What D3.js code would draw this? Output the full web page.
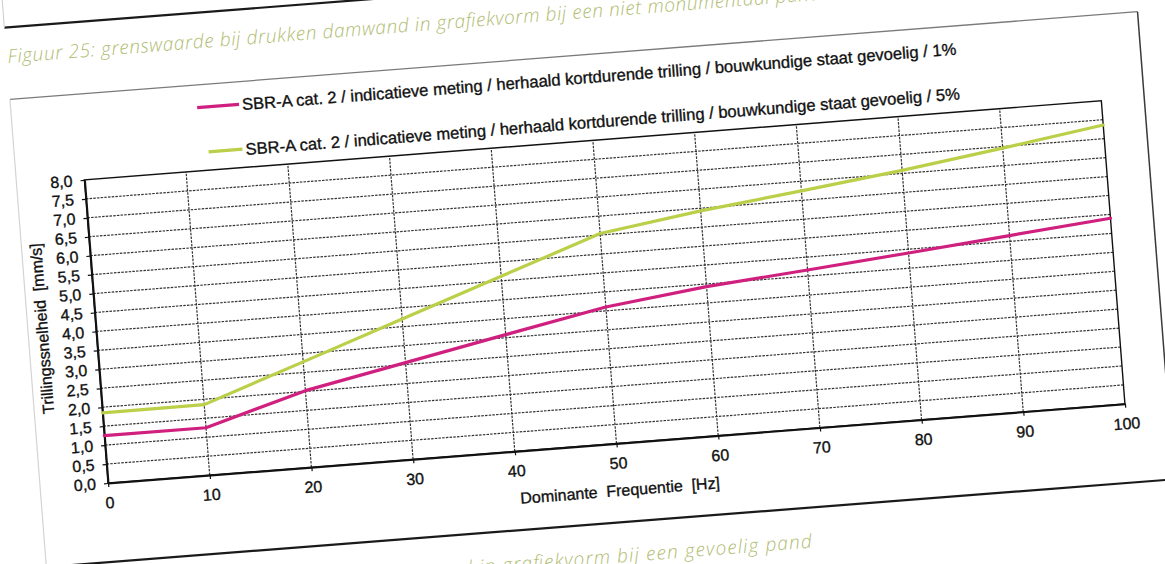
<!DOCTYPE html>
<html><head><meta charset="utf-8">
<script src="https://cdn.jsdelivr.net/npm/d3@7/dist/d3.min.js"></script>
<style>
body{margin:0;background:#fff;overflow:hidden}
svg{display:block}
</style>
</head><body>
<svg id="chart" width="1165" height="564"></svg>
<script>
// ---- data ----
const freq = [0, 10, 20, 30, 40, 50, 60, 70, 80, 90, 100];
const values1pct = [1.25, 1.25, 2.02, 2.55, 3.08, 3.6, 3.93, 4.16, 4.4, 4.65, 4.9];
const values5pct = [1.85, 1.86, 2.78, 3.7, 4.62, 5.54, 5.93, 6.25, 6.58, 6.96, 7.36];
const seriesNames = [
  "SBR-A cat. 2 / indicatieve meting / herhaald kortdurende trilling / bouwkundige staat gevoelig / 1%",
  "SBR-A cat. 2 / indicatieve meting / herhaald kortdurende trilling / bouwkundige staat gevoelig / 5%"
];
const seriesColors = ["#d0207f", "#bccf48"];
const xTicks = [0, 10, 20, 30, 40, 50, 60, 70, 80, 90, 100];
const yTicks = [0, 0.5, 1, 1.5, 2, 2.5, 3, 3.5, 4, 4.5, 5, 5.5, 6, 6.5, 7, 7.5, 8];
const xTitle = "Dominante  Frequentie  [Hz]";
const yTitle = "Trillingssnelheid  [mm/s]";
const captionTop = "Figuur 25: grenswaarde bij drukken damwand in grafiekvorm bij een niet monumentaal pand";
const captionBottom = "Figuur 26: grenswaarde bij drukken damwand in grafiekvorm bij een gevoelig pand";

// ---- layout ----
const W = 1020, H = 304;
const svg = d3.select("#chart");
const g = svg.append("g").attr("transform", "translate(108,483) rotate(-4.45)");

const x = d3.scaleLinear().domain([0, 100]).range([0, W]);
const y = d3.scaleLinear().domain([0, 8]).range([0, -H]);

const FONT = "'Liberation Sans', Arial, sans-serif";
const CAPFONT = "'Open Sans', 'Noto Sans', sans-serif";
const ink = sel => sel.attr("fill", "#111").attr("stroke", "#111").attr("stroke-width", 0.35);

// previous figure frame remnants
g.append("line").attr("x1", -68).attr("x2", 1063).attr("y1", -462).attr("y2", -462)
  .attr("stroke", "#1a1a1a").attr("stroke-width", 2.2);
g.append("line").attr("x1", -68).attr("x2", -68).attr("y1", -462).attr("y2", -600)
  .attr("stroke", "#ccc").attr("stroke-width", 1);

// chart frame
g.append("line").attr("x1", -68).attr("x2", 1063).attr("y1", -390).attr("y2", -390)
  .attr("stroke", "#7a7a7a").attr("stroke-width", 1.3);
g.append("line").attr("x1", -68).attr("x2", -68).attr("y1", -390).attr("y2", 79)
  .attr("stroke", "#d4d4d4").attr("stroke-width", 1.2);
g.append("line").attr("x1", 1063).attr("x2", 1063).attr("y1", -390).attr("y2", 79)
  .attr("stroke", "#3a3a3a").attr("stroke-width", 1.5);
g.append("line").attr("x1", -68).attr("x2", 1063).attr("y1", 79).attr("y2", 79)
  .attr("stroke", "#1a1a1a").attr("stroke-width", 2.2);

// captions
g.append("text").attr("x", -67).attr("y", -426.5)
  .attr("font-family", CAPFONT).attr("font-style", "italic").attr("font-weight", 300)
  .attr("font-size", 19).attr("fill", "#b0bc72")
  .attr("textLength", 815).attr("lengthAdjust", "spacing")
  .text(captionTop);
g.append("text").attr("x", -67).attr("y", 119)
  .attr("font-family", CAPFONT).attr("font-style", "italic").attr("font-weight", 300)
  .attr("font-size", 19).attr("fill", "#b0bc72")
  .attr("textLength", 764).attr("lengthAdjust", "spacing")
  .text(captionBottom);

// grid
const grid = g.append("g");
grid.selectAll("line.h").data(yTicks.filter(d => d > 0 && d < 8)).join("line")
  .attr("class", "h").attr("x1", 0).attr("x2", W)
  .attr("y1", d => y(d)).attr("y2", d => y(d))
  .attr("stroke", "#333").attr("stroke-width", 1.2).attr("stroke-dasharray", "2.5,1.2");
grid.selectAll("line.v").data(xTicks.filter(d => d > 0 && d < 100)).join("line")
  .attr("class", "v").attr("x1", d => x(d)).attr("x2", d => x(d))
  .attr("y1", 0).attr("y2", -H)
  .attr("stroke", "#333").attr("stroke-width", 1.2).attr("stroke-dasharray", "2.5,1.2");

// plot border
g.append("rect").attr("x", 0).attr("y", -H).attr("width", W).attr("height", H)
  .attr("fill", "none").attr("stroke", "#111").attr("stroke-width", 1.4);

// axes
const xAxis = g.append("g")
  .call(d3.axisBottom(x).tickValues(xTicks).tickSize(4).tickSizeOuter(0).tickPadding(10));
const yAxis = g.append("g")
  .call(d3.axisLeft(y).tickValues(yTicks).tickSize(4).tickSizeOuter(0).tickPadding(8)
    .tickFormat(d => d3.format(".1f")(d).replace(".", ",")));
[xAxis, yAxis].forEach(a => {
  a.attr("font-family", FONT).attr("font-size", 16);
  ink(a.selectAll("text"));
  a.selectAll(".tick line").attr("stroke", "#111").attr("stroke-width", 1.2);
  a.select(".domain").attr("stroke", "#111").attr("stroke-width", 2);
});

// series lines
const line = d3.line().x((d, i) => x(freq[i])).y(d => y(d));
[values1pct, values5pct].forEach((vals, k) => {
  g.append("path").datum(vals).attr("d", line)
    .attr("fill", "none").attr("stroke", seriesColors[k]).attr("stroke-width", 3.2)
    .attr("stroke-linejoin", "round").attr("stroke-linecap", "round");
});

// legend
const legendRows = [367.3, 322.4];
seriesNames.forEach((name, k) => {
  const ly = -legendRows[k];
  g.append("line").attr("x1", 118 + k * 8).attr("x2", 160).attr("y1", ly).attr("y2", ly)
    .attr("stroke", seriesColors[k]).attr("stroke-width", 3.2);
  const t = g.append("text").attr("x", 163).attr("y", ly).attr("dy", "0.36em")
    .attr("font-family", FONT).attr("font-size", 14).text(name);
  ink(t);
  const len = t.node().getComputedTextLength();
  t.attr("font-size", 14 * 717 / len);
});

// axis titles
ink(g.append("text").attr("x", x(50)).attr("y", 47).attr("dy", "0.36em")
  .attr("text-anchor", "middle").attr("font-family", FONT).attr("font-size", 16)
  .style("white-space", "pre").text(xTitle));
ink(g.append("text").attr("transform", `translate(-54,${-159}) rotate(-90)`).attr("dy", "0.36em")
  .attr("text-anchor", "middle").attr("font-family", FONT).attr("font-size", 16)
  .style("white-space", "pre").text(yTitle));
</script>
</body></html>
